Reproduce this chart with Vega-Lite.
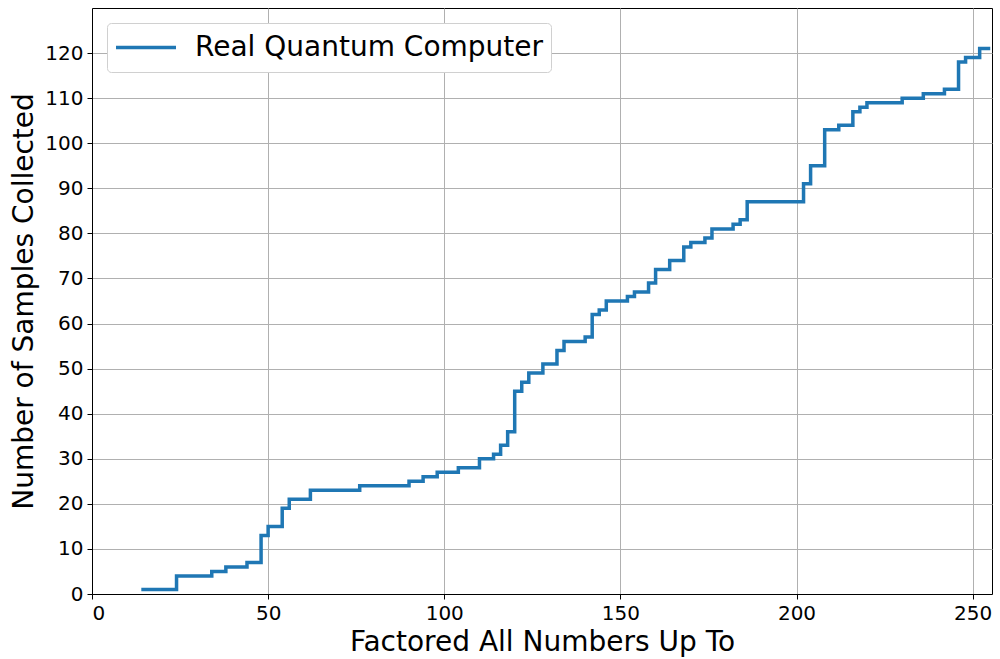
{
  "$schema": "https://vega.github.io/schema/vega-lite/v6.json",
  "width": 900,
  "height": 586,
  "autosize": {"type": "none"},
  "padding": {"left": 92, "top": 8, "right": 8, "bottom": 65},
  "background": "white",
  "config": {
    "font": "DejaVu Sans",
    "view": {"stroke": "black", "strokeWidth": 1},
    "axis": {
      "domainColor": "black",
      "tickColor": "black",
      "tickSize": 5,
      "labelPadding": 4,
      "labelFontSize": 20,
      "labelColor": "black",
      "titleFontSize": 28,
      "titleFontWeight": "normal",
      "titleColor": "black",
      "gridColor": "#b0b0b0",
      "gridWidth": 1
    }
  },
  "data": {
    "values": [
      {"n": 14, "samples": 1, "series": "Real Quantum Computer"},
      {"n": 24, "samples": 4, "series": "Real Quantum Computer"},
      {"n": 34, "samples": 5, "series": "Real Quantum Computer"},
      {"n": 38, "samples": 6, "series": "Real Quantum Computer"},
      {"n": 44, "samples": 7, "series": "Real Quantum Computer"},
      {"n": 48, "samples": 13, "series": "Real Quantum Computer"},
      {"n": 50, "samples": 15, "series": "Real Quantum Computer"},
      {"n": 54, "samples": 19, "series": "Real Quantum Computer"},
      {"n": 56, "samples": 21, "series": "Real Quantum Computer"},
      {"n": 62, "samples": 23, "series": "Real Quantum Computer"},
      {"n": 76, "samples": 24, "series": "Real Quantum Computer"},
      {"n": 90, "samples": 25, "series": "Real Quantum Computer"},
      {"n": 94, "samples": 26, "series": "Real Quantum Computer"},
      {"n": 98, "samples": 27, "series": "Real Quantum Computer"},
      {"n": 104, "samples": 28, "series": "Real Quantum Computer"},
      {"n": 110, "samples": 30, "series": "Real Quantum Computer"},
      {"n": 114, "samples": 31, "series": "Real Quantum Computer"},
      {"n": 116, "samples": 33, "series": "Real Quantum Computer"},
      {"n": 118, "samples": 36, "series": "Real Quantum Computer"},
      {"n": 120, "samples": 45, "series": "Real Quantum Computer"},
      {"n": 122, "samples": 47, "series": "Real Quantum Computer"},
      {"n": 124, "samples": 49, "series": "Real Quantum Computer"},
      {"n": 128, "samples": 51, "series": "Real Quantum Computer"},
      {"n": 132, "samples": 54, "series": "Real Quantum Computer"},
      {"n": 134, "samples": 56, "series": "Real Quantum Computer"},
      {"n": 140, "samples": 57, "series": "Real Quantum Computer"},
      {"n": 142, "samples": 62, "series": "Real Quantum Computer"},
      {"n": 144, "samples": 63, "series": "Real Quantum Computer"},
      {"n": 146, "samples": 65, "series": "Real Quantum Computer"},
      {"n": 152, "samples": 66, "series": "Real Quantum Computer"},
      {"n": 154, "samples": 67, "series": "Real Quantum Computer"},
      {"n": 158, "samples": 69, "series": "Real Quantum Computer"},
      {"n": 160, "samples": 72, "series": "Real Quantum Computer"},
      {"n": 164, "samples": 74, "series": "Real Quantum Computer"},
      {"n": 168, "samples": 77, "series": "Real Quantum Computer"},
      {"n": 170, "samples": 78, "series": "Real Quantum Computer"},
      {"n": 174, "samples": 79, "series": "Real Quantum Computer"},
      {"n": 176, "samples": 81, "series": "Real Quantum Computer"},
      {"n": 182, "samples": 82, "series": "Real Quantum Computer"},
      {"n": 184, "samples": 83, "series": "Real Quantum Computer"},
      {"n": 186, "samples": 87, "series": "Real Quantum Computer"},
      {"n": 202, "samples": 91, "series": "Real Quantum Computer"},
      {"n": 204, "samples": 95, "series": "Real Quantum Computer"},
      {"n": 208, "samples": 103, "series": "Real Quantum Computer"},
      {"n": 212, "samples": 104, "series": "Real Quantum Computer"},
      {"n": 216, "samples": 107, "series": "Real Quantum Computer"},
      {"n": 218, "samples": 108, "series": "Real Quantum Computer"},
      {"n": 220, "samples": 109, "series": "Real Quantum Computer"},
      {"n": 230, "samples": 110, "series": "Real Quantum Computer"},
      {"n": 236, "samples": 111, "series": "Real Quantum Computer"},
      {"n": 242, "samples": 112, "series": "Real Quantum Computer"},
      {"n": 246, "samples": 118, "series": "Real Quantum Computer"},
      {"n": 248, "samples": 119, "series": "Real Quantum Computer"},
      {"n": 252, "samples": 121, "series": "Real Quantum Computer"},
      {"n": 255, "samples": 121, "series": "Real Quantum Computer"}
    ]
  },
  "mark": {"type": "line", "interpolate": "step-after", "strokeWidth": 3.5, "clip": true},
  "encoding": {
    "x": {
      "field": "n",
      "type": "quantitative",
      "title": "Factored All Numbers Up To",
      "scale": {"domain": [0, 255.5], "nice": false, "zero": false},
      "axis": {"values": [0, 50, 100, 150, 200, 250], "titlePadding": 5}
    },
    "y": {
      "field": "samples",
      "type": "quantitative",
      "title": "Number of Samples Collected",
      "scale": {"domain": [0, 130], "nice": false},
      "axis": {"values": [0, 10, 20, 30, 40, 50, 60, 70, 80, 90, 100, 110, 120], "titlePadding": 6}
    },
    "color": {
      "field": "series",
      "type": "nominal",
      "scale": {"range": ["#1f77b4"]},
      "legend": {
        "title": null,
        "orient": "none",
        "legendX": 15,
        "legendY": 15,
        "fillColor": "white",
        "strokeColor": "#d0d0d0",
        "cornerRadius": 4,
        "padding": 7,
        "clipHeight": 35,
        "symbolType": "stroke",
        "symbolSize": 3600,
        "symbolStrokeWidth": 3.5,
        "labelFontSize": 28,
        "labelColor": "black",
        "labelOffset": 17,
        "labelLimit": 0
      }
    }
  }
}
